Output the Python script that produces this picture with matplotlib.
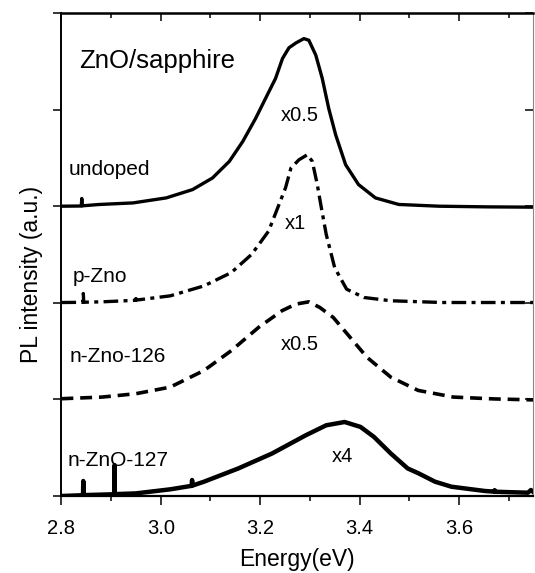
import matplotlib
matplotlib.use('Agg')
import matplotlib.pyplot as plt
from matplotlib.ticker import MultipleLocator

plt.rcParams['font.family'] = ['Liberation Sans', 'DejaVu Sans']

# spectra (energy in eV, intensity in a.u., already stacked)
undoped_e = [2.800, 2.840, 2.841, 2.842, 2.877, 2.944, 3.011, 3.064, 3.104, 3.138, 3.165, 3.191,
             3.211, 3.231, 3.245, 3.258, 3.272, 3.288, 3.298, 3.312, 3.325, 3.338, 3.352,
             3.372, 3.398, 3.432, 3.479, 3.560, 3.659, 3.750]
undoped_i = [3.000, 3.002, 3.080, 3.004, 3.018, 3.034, 3.086, 3.172, 3.292, 3.464, 3.670, 3.910,
             4.117, 4.323, 4.529, 4.640, 4.690, 4.735, 4.718, 4.564, 4.323, 4.013, 3.739,
             3.430, 3.224, 3.086, 3.018, 3.000, 2.993, 2.990]

pzno_e = [2.800, 2.843, 2.844, 2.845, 2.882, 2.949, 2.950, 2.951, 3.019, 3.087, 3.142, 3.183,
          3.217, 3.238, 3.251, 3.262, 3.278, 3.295, 3.305, 3.315, 3.322, 3.333, 3.350,
          3.374, 3.409, 3.463, 3.566, 3.750]
pzno_i = [2.003, 2.005, 2.096, 2.006, 2.010, 2.026, 2.044, 2.028, 2.072, 2.175, 2.313, 2.502,
          2.742, 3.018, 3.189, 3.395, 3.480, 3.533, 3.464, 3.224, 3.018, 2.708, 2.364,
          2.141, 2.055, 2.021, 2.003, 2.003]

n126_e = [2.800, 2.882, 2.950, 3.019, 3.087, 3.142, 3.197, 3.244, 3.272, 3.298, 3.320, 3.347,
          3.381, 3.415, 3.463, 3.518, 3.589, 3.670, 3.750]
n126_i = [1.007, 1.024, 1.059, 1.127, 1.299, 1.505, 1.746, 1.918, 1.987, 2.010, 1.952, 1.849,
          1.643, 1.436, 1.230, 1.093, 1.024, 1.005, 0.995]

n127_e = [2.800, 2.8435, 2.844, 2.8445, 2.9065, 2.907, 2.9075, 2.950, 3.019, 3.062, 3.063, 3.064,
          3.087, 3.156, 3.224, 3.292, 3.333, 3.370, 3.402, 3.429, 3.463, 3.497, 3.519,
          3.552, 3.585, 3.652, 3.671, 3.672, 3.673, 3.739, 3.745, 3.750]
n127_i = [0.000, 0.008, 0.155, 0.009, 0.018, 0.320, 0.019, 0.027, 0.069, 0.105, 0.165, 0.108,
          0.148, 0.285, 0.440, 0.629, 0.732, 0.766, 0.715, 0.612, 0.440, 0.285, 0.234,
          0.148, 0.096, 0.052, 0.045, 0.060, 0.044, 0.034, 0.062, 0.040]

sample_names = ['undoped', 'p-Zno', 'n-Zno-126', 'n-ZnO-127']
name_pos = [(2.814, 3.32), (2.822, 2.22), (2.817, 1.39), (2.812, 0.31)]
scale_labels = ['x0.5', 'x1', 'x0.5', 'x4']
scale_pos = [(3.241, 3.88), (3.250, 2.76), (3.242, 1.515), (3.344, 0.354)]

fig = plt.figure(figsize=(5.35, 5.73), dpi=100)
ax = fig.add_axes([0.1148, 0.1344, 0.8822, 0.8429])

ax.plot(undoped_e, undoped_i, color='black', lw=2.4, solid_joinstyle='round')
ax.plot(pzno_e, pzno_i, color='black', lw=2.4, linestyle=(0, (4.4, 1.6, 1.2, 1.6)))
ax.plot(n126_e, n126_i, color='black', lw=2.6, linestyle=(0, (3.3, 1.9)))
ax.plot(n127_e, n127_i, color='black', lw=3.2, solid_joinstyle='round')

ax.text(2.836, 4.43, 'ZnO/sapphire', fontsize=18.5)
for name, (x, y) in zip(sample_names, name_pos):
    ax.text(x, y, name, fontsize=15)
for lab, (x, y) in zip(scale_labels, scale_pos):
    ax.text(x, y, lab, fontsize=14.5)

ax.set_xlim(2.8, 3.75)
ax.set_ylim(0, 5)
ax.xaxis.set_major_locator(MultipleLocator(0.2))
ax.xaxis.set_minor_locator(MultipleLocator(0.1))
ax.yaxis.set_major_locator(MultipleLocator(1))
ax.set_yticklabels([])

ax.tick_params(axis='x', which='both', bottom=True, top=False, direction='out',
               labelsize=14.5, pad=10, width=1.1)
ax.tick_params(axis='x', which='major', length=6.5)
ax.tick_params(axis='x', which='minor', length=3.8)
ax.tick_params(axis='y', which='major', left=True, right=False, direction='out',
               length=6, width=1.1)

# top axis ticks point inward, right axis ticks point inward
top = ax.secondary_xaxis('top')
top.xaxis.set_major_locator(MultipleLocator(0.2))
top.xaxis.set_minor_locator(MultipleLocator(0.1))
top.tick_params(which='both', direction='in', labeltop=False, width=1.1)
top.tick_params(which='major', length=5.5)
top.tick_params(which='minor', length=3.5)
top.spines['top'].set_visible(False)
right = ax.secondary_yaxis('right')
right.yaxis.set_major_locator(MultipleLocator(1))
right.tick_params(direction='in', labelright=False, length=6, width=1.1)
right.spines['right'].set_visible(False)

ax.spines['left'].set_linewidth(1.4)
ax.spines['bottom'].set_linewidth(1.6)
ax.spines['top'].set_linewidth(1.8)
ax.spines['right'].set_color('#888888')
ax.spines['right'].set_linewidth(0.8)

ax.set_xlabel('Energy(eV)', fontsize=16.5)
ax.set_ylabel('PL intensity (a.u.)', fontsize=16.5)
ax.xaxis.set_label_coords(0.5, -0.108)
ax.yaxis.set_label_coords(-0.039, 0.459)

fig.savefig('out.png', dpi=100)
